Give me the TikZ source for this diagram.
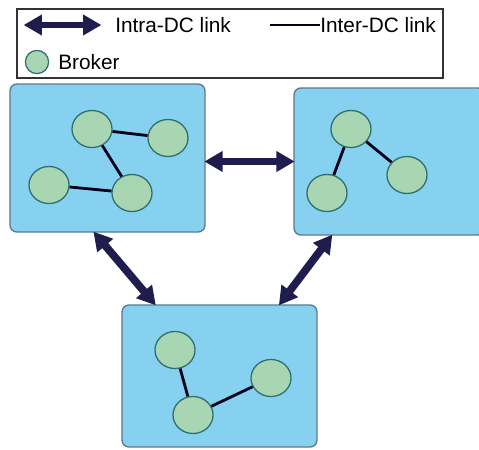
\documentclass[tikz,border=0pt]{standalone}
\usepackage{fontspec}
\setmainfont{Liberation Sans}
\usetikzlibrary{shapes.geometric, arrows.meta, positioning}

\definecolor{dcfill}{HTML}{86D0F0}
\definecolor{dcdraw}{HTML}{5B7D90}
\definecolor{brokerfill}{HTML}{A9D6B2}
\definecolor{brokerdraw}{HTML}{2E6E6E}
\definecolor{linkcol}{HTML}{211C4E}

\begin{document}
\begin{tikzpicture}[
    x=0.025cm, y=-0.025cm,
    font=\fontsize{14.8}{17}\selectfont,
    dc/.style={rectangle, draw=dcdraw, fill=dcfill, line width=1pt, rounded corners=5pt},
    broker/.style={ellipse, draw=brokerdraw, fill=brokerfill, line width=0.9pt, minimum width=1cm, minimum height=0.925cm, inner sep=0pt},
    inter/.style={line width=2pt, draw=black!90!blue},
    intra/.style={{Triangle[width=14pt,length=13pt]}-{Triangle[width=14pt,length=13pt]}, line width=5.5pt, draw=linkcol, shorten <=-1pt, shorten >=-1pt},
    lbl/.style={anchor=west, inner sep=0pt}
]
\useasboundingbox (0,0) rectangle (479,449);

% 1. Legend
\node[draw=black!80, line width=0.8pt, minimum width=10.65cm, minimum height=1.725cm, inner sep=0pt] (legend) at (230,43.5) {};
\coordinate (la) at (25,25);
\coordinate (lb) at (100,25);
\draw[intra, line width=4.5pt] (la) -- (lb);
\node[lbl] (intralbl) at (115,25) {Intra-DC link};
\coordinate (lc) at (270,25);
\node[lbl] (interlbl) at (320,25) {Inter-DC link};
\draw[inter, line width=1.5pt] (lc) -- (interlbl.west);
\node[broker, minimum width=0.58cm, minimum height=0.58cm] (lbroker) at (37,62) {};
\node[lbl] (brokerlbl) at (58,62) {Broker};

% 2. Data centers
\node[dc, minimum width=4.875cm, minimum height=3.7cm] (dc1) at (107.5,158) {};
\node[dc, minimum width=4.775cm, minimum height=3.675cm] (dc2) at (389.5,161.5) {};
\node[dc, minimum width=4.875cm, minimum height=3.55cm] (dc3) at (219.5,376) {};

% -- DC 1 --
\node[broker] (b1a) at (92,129) {};
\node[broker] (b1b) at (168,138) {};
\node[broker] (b1c) at (49,185) {};
\node[broker] (b1d) at (132,193) {};
\draw[inter] (b1a) -- (b1b);
\draw[inter] (b1a) -- (b1d);
\draw[inter] (b1c) -- (b1d);

% -- DC 2 --
\node[broker] (b2a) at (351,129) {};
\node[broker] (b2b) at (407,175) {};
\node[broker] (b2c) at (327,193) {};
\draw[inter] (b2a) -- (b2b);
\draw[inter] (b2a) -- (b2c);

% -- DC 3 --
\node[broker] (b3a) at (175,350) {};
\node[broker] (b3b) at (271,378) {};
\node[broker] (b3c) at (193,415) {};
\draw[inter] (b3a) -- (b3c);
\draw[inter] (b3c) -- (b3b);

% 3. Links between data centers
\draw[intra] (dc2.west -| dc1.east) -- (dc2.west);
\draw[intra] (dc1.260) -- (dc3.132);
\draw[intra] (dc2.232) -- (dc3.50);

\end{tikzpicture}
\end{document}
